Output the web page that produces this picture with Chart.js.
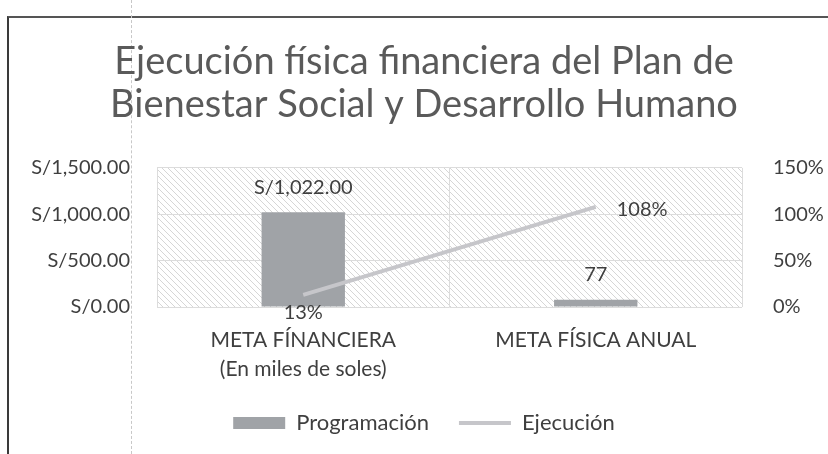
<!DOCTYPE html>
<html>
<head>
<meta charset="utf-8">
<script src="https://cdn.jsdelivr.net/npm/chart.js@4"></script>
<style>
  body { margin: 0; background: #fff; }
  #wrap { position: relative; width: 828px; height: 454px; }
  #frame { position: absolute; left: 7px; top: 16px; right: -4px; bottom: -4px;
           border-left: 2px solid #3a3a3a; border-top: 2px solid #555; }
  #scan { position: absolute; left: 131px; top: 0; height: 454px;
          border-left: 1px dashed #c8c8c8; }
  canvas { position: absolute; left: 0; top: 0; }
</style>
</head>
<body>
<div id="wrap">
  <div id="frame"></div>
  <div id="scan"></div>
  <canvas id="chart" width="828" height="454"></canvas>
</div>
<script>
const titleLines = ["Ejecución física financiera del Plan de", "Bienestar Social y Desarrollo Humano"];
const categories = [["META FÍNANCIERA", "(En miles de soles)"], "META FÍSICA ANUAL"];
const programacion = [1022, 77];
const ejecucion = [0.13, 1.08];
const leftTicks = [0, 500, 1000, 1500];
const rightTicks = [0, 0.5, 1, 1.5];

const FONT = "Lato, 'Open Sans', sans-serif";
const TEXT = "#3f3f3f";

function soles(v) {
  return "S/" + v.toLocaleString("en-US", { minimumFractionDigits: 2, maximumFractionDigits: 2 });
}

function hatch() {
  const c = document.createElement("canvas");
  c.width = 6; c.height = 6;
  const g = c.getContext("2d");
  g.strokeStyle = "#d6d6d6";
  g.lineWidth = 1;
  g.beginPath();
  g.moveTo(0, 0); g.lineTo(6, 6);
  g.moveTo(-3, 3); g.lineTo(3, 9);
  g.moveTo(3, -3); g.lineTo(9, 3);
  g.stroke();
  return g.createPattern(c, "repeat");
}

const plotBg = {
  id: "plotBg",
  beforeDraw(chart) {
    const a = chart.chartArea, ctx = chart.ctx;
    ctx.save();
    ctx.fillStyle = hatch();
    ctx.fillRect(a.left, a.top, a.right - a.left, a.bottom - a.top);
    ctx.restore();
  }
};

const valueLabels = {
  id: "valueLabels",
  afterDatasetsDraw(chart) {
    const ctx = chart.ctx;
    ctx.save();
    ctx.font = "20px " + FONT;
    ctx.fillStyle = TEXT;
    ctx.textAlign = "center";
    ctx.textBaseline = "middle";
    chart.getDatasetMeta(0).data.forEach((b, i) => {
      const txt = i === 0 ? soles(programacion[i]) : String(programacion[i]);
      ctx.fillText(txt, b.x, b.y - 25);
    });
    const pts = chart.getDatasetMeta(1).data;
    ctx.fillText(Math.round(ejecucion[0] * 100) + "%", pts[0].x, pts[0].y + 18);
    ctx.textAlign = "left";
    ctx.fillText(Math.round(ejecucion[1] * 100) + "%", pts[1].x + 21, pts[1].y + 3);
    ctx.restore();
  }
};

new Chart(document.getElementById("chart"), {
  data: {
    labels: categories,
    datasets: [{
      type: "bar",
      label: "Programación",
      data: programacion,
      backgroundColor: "#a0a3a7",
      categoryPercentage: 0.285,
      barPercentage: 1,
      yAxisID: "y",
      pointStyle: "rect",
      order: 2
    }, {
      type: "line",
      label: "Ejecución",
      data: ejecucion,
      borderColor: "#c6c6ca",
      backgroundColor: "#c6c6ca",
      borderWidth: 4,
      pointRadius: 0,
      pointStyle: "line",
      yAxisID: "y1",
      order: 1
    }]
  },
  options: {
    responsive: false,
    animation: false,
    layout: { padding: { top: 0, left: 20, right: 0, bottom: 10 } },
    plugins: {
      title: {
        display: true,
        text: titleLines,
        color: "#5a5a5a",
        font: { family: FONT, size: 38, weight: "normal", lineHeight: 1.13 },
        padding: { top: 40, bottom: 42 }
      },
      legend: {
        position: "bottom",
        labels: {
          color: TEXT,
          font: { family: FONT, size: 22 },
          usePointStyle: true,
          pointStyleWidth: 52,
          boxHeight: 12,
          padding: 30,
          sort: (a, b) => a.datasetIndex - b.datasetIndex
        }
      },
      tooltip: { enabled: false }
    },
    scales: {
      x: {
        afterFit: s => { s.height = 75; },
        grid: { color: "#dcdcdc", offset: true, drawTicks: false },
        border: { display: false },
        ticks: { color: TEXT, font: { family: FONT, size: 21, lineHeight: 1.38 }, padding: 19 }
      },
      y: {
        position: "left",
        min: 0, max: 1500,
        afterBuildTicks: s => { s.ticks = leftTicks.map(v => ({ value: v })); },
        afterFit: s => { s.width = 137; },
        grid: { color: "#dcdcdc", drawTicks: false },
        border: { display: false },
        ticks: { color: TEXT, font: { family: FONT, size: 20 }, padding: 27, callback: v => soles(v) }
      },
      y1: {
        position: "right",
        min: 0, max: 1.5,
        afterBuildTicks: s => { s.ticks = rightTicks.map(v => ({ value: v })); },
        afterFit: s => { s.width = 86; },
        grid: { display: false },
        border: { display: false },
        ticks: { color: TEXT, font: { family: FONT, size: 20 }, padding: 23, callback: v => Math.round(v * 100) + "%" }
      }
    }
  },
  plugins: [plotBg, valueLabels]
});
</script>
</body>
</html>
